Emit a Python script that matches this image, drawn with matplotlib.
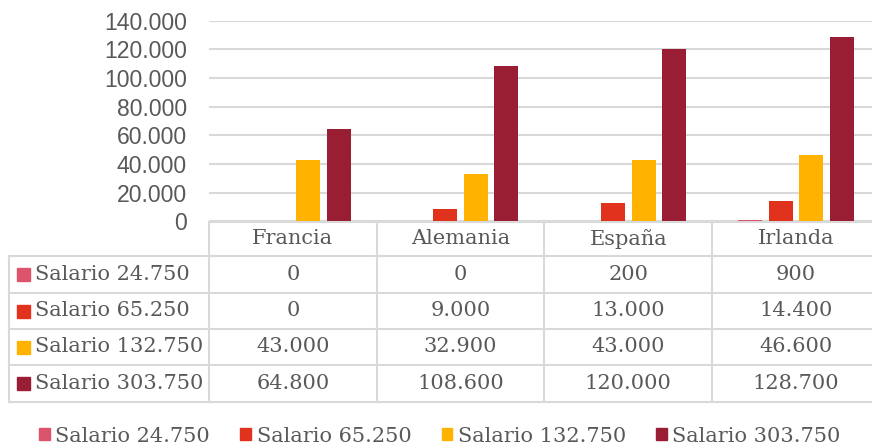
import numpy as np
import matplotlib.pyplot as plt
from matplotlib.patches import Rectangle, Patch
from matplotlib.ticker import FuncFormatter

paises = ['Francia', 'Alemania', 'España', 'Irlanda']
series = ['Salario 24.750', 'Salario 65.250', 'Salario 132.750', 'Salario 303.750']
s24750 = [0, 0, 200, 900]
s65250 = [0, 9000, 13000, 14400]
s132750 = [43000, 32900, 43000, 46600]
s303750 = [64800, 108600, 120000, 128700]
valores = [s24750, s65250, s132750, s303750]
colores = ['#DC546C', '#E1321E', '#FFB300', '#991E33']
yticks = np.arange(0, 140001, 20000)

W, H = 872, 447
gris = '#595959'
linea = '#D9D9D9'
serif = 'DejaVu Serif'
sans = 'Liberation Sans'


def miles(v, pos=None):
    return f'{int(v):,}'.replace(',', '.')


fig = plt.figure(figsize=(W / 100, H / 100), dpi=100)

# layout in pixels
x0, x1 = 209, 872
y_top, y_zero = 20.7, 221.5
col_w = 167.7

ax = fig.add_axes([x0 / W, 1 - y_zero / H, (x1 - x0) / W, (y_zero - y_top) / H])
x = np.arange(len(paises))
paso = 30.5 / col_w
ancho = 24 / col_w
for i, (vals, c) in enumerate(zip(valores, colores)):
    ax.bar(x + (i - 1.5) * paso, vals, ancho, color=c, zorder=3)

ax.set_xlim(-0.5, -0.5 + (x1 - x0) / col_w)
ax.set_ylim(0, 140000)
ax.set_yticks(yticks)
ax.yaxis.set_major_formatter(FuncFormatter(miles))
ax.set_xticks([])
ax.grid(axis='y', color=linea, linewidth=1.5, zorder=0)
for s in ax.spines.values():
    s.set_visible(False)
ax.tick_params(axis='y', length=0, pad=15.8, labelsize=16.6, labelcolor=gris)
for t in ax.get_yticklabels():
    t.set_fontfamily(sans)

# data table under the plot
tax = fig.add_axes([0, 0, 1, 1], zorder=-1)
tax.set_xlim(0, W)
tax.set_ylim(H, 0)
tax.axis('off')

filas = [222, 256, 293, 329, 365, 402]
cols = [x0 + k * col_w for k in range(len(paises))]
kw = dict(color=linea, linewidth=1.5)
tax.plot([x0, W], [filas[0], filas[0]], **kw)
for yy in filas[1:]:
    tax.plot([9, W], [yy, yy], **kw)
tax.plot([9, 9], [filas[1], filas[-1]], **kw)
for xx in cols:
    tax.plot([xx, xx], [filas[0], filas[-1]], **kw)

txt = dict(fontsize=15, color=gris, family=serif)
for j, p in enumerate(paises):
    tax.text(cols[j] + col_w / 2, (filas[0] + filas[1]) / 2, p,
             ha='center', va='center', **txt)
for i, (nombre, vals, c) in enumerate(zip(series, valores, colores)):
    ym = (filas[i + 1] + filas[i + 2]) / 2
    tax.add_patch(Rectangle((17, ym - 6.5), 13, 13, color=c))
    tax.text(35, ym, nombre, ha='left', va='center', **txt)
    for j, v in enumerate(vals):
        tax.text(cols[j] + col_w / 2, ym, miles(v), ha='center', va='center', **txt)

handles = [Patch(color=c, label=s) for s, c in zip(series, colores)]
fig.legend(handles=handles, loc='center', bbox_to_anchor=(440 / W, 1 - 436 / H),
           ncol=4, frameon=False, handlelength=0.5, handleheight=0.5,
           handletextpad=0.28, columnspacing=1.45,
           prop=dict(family=serif, size=15), labelcolor=gris)

fig.savefig('out.png', dpi=100)
